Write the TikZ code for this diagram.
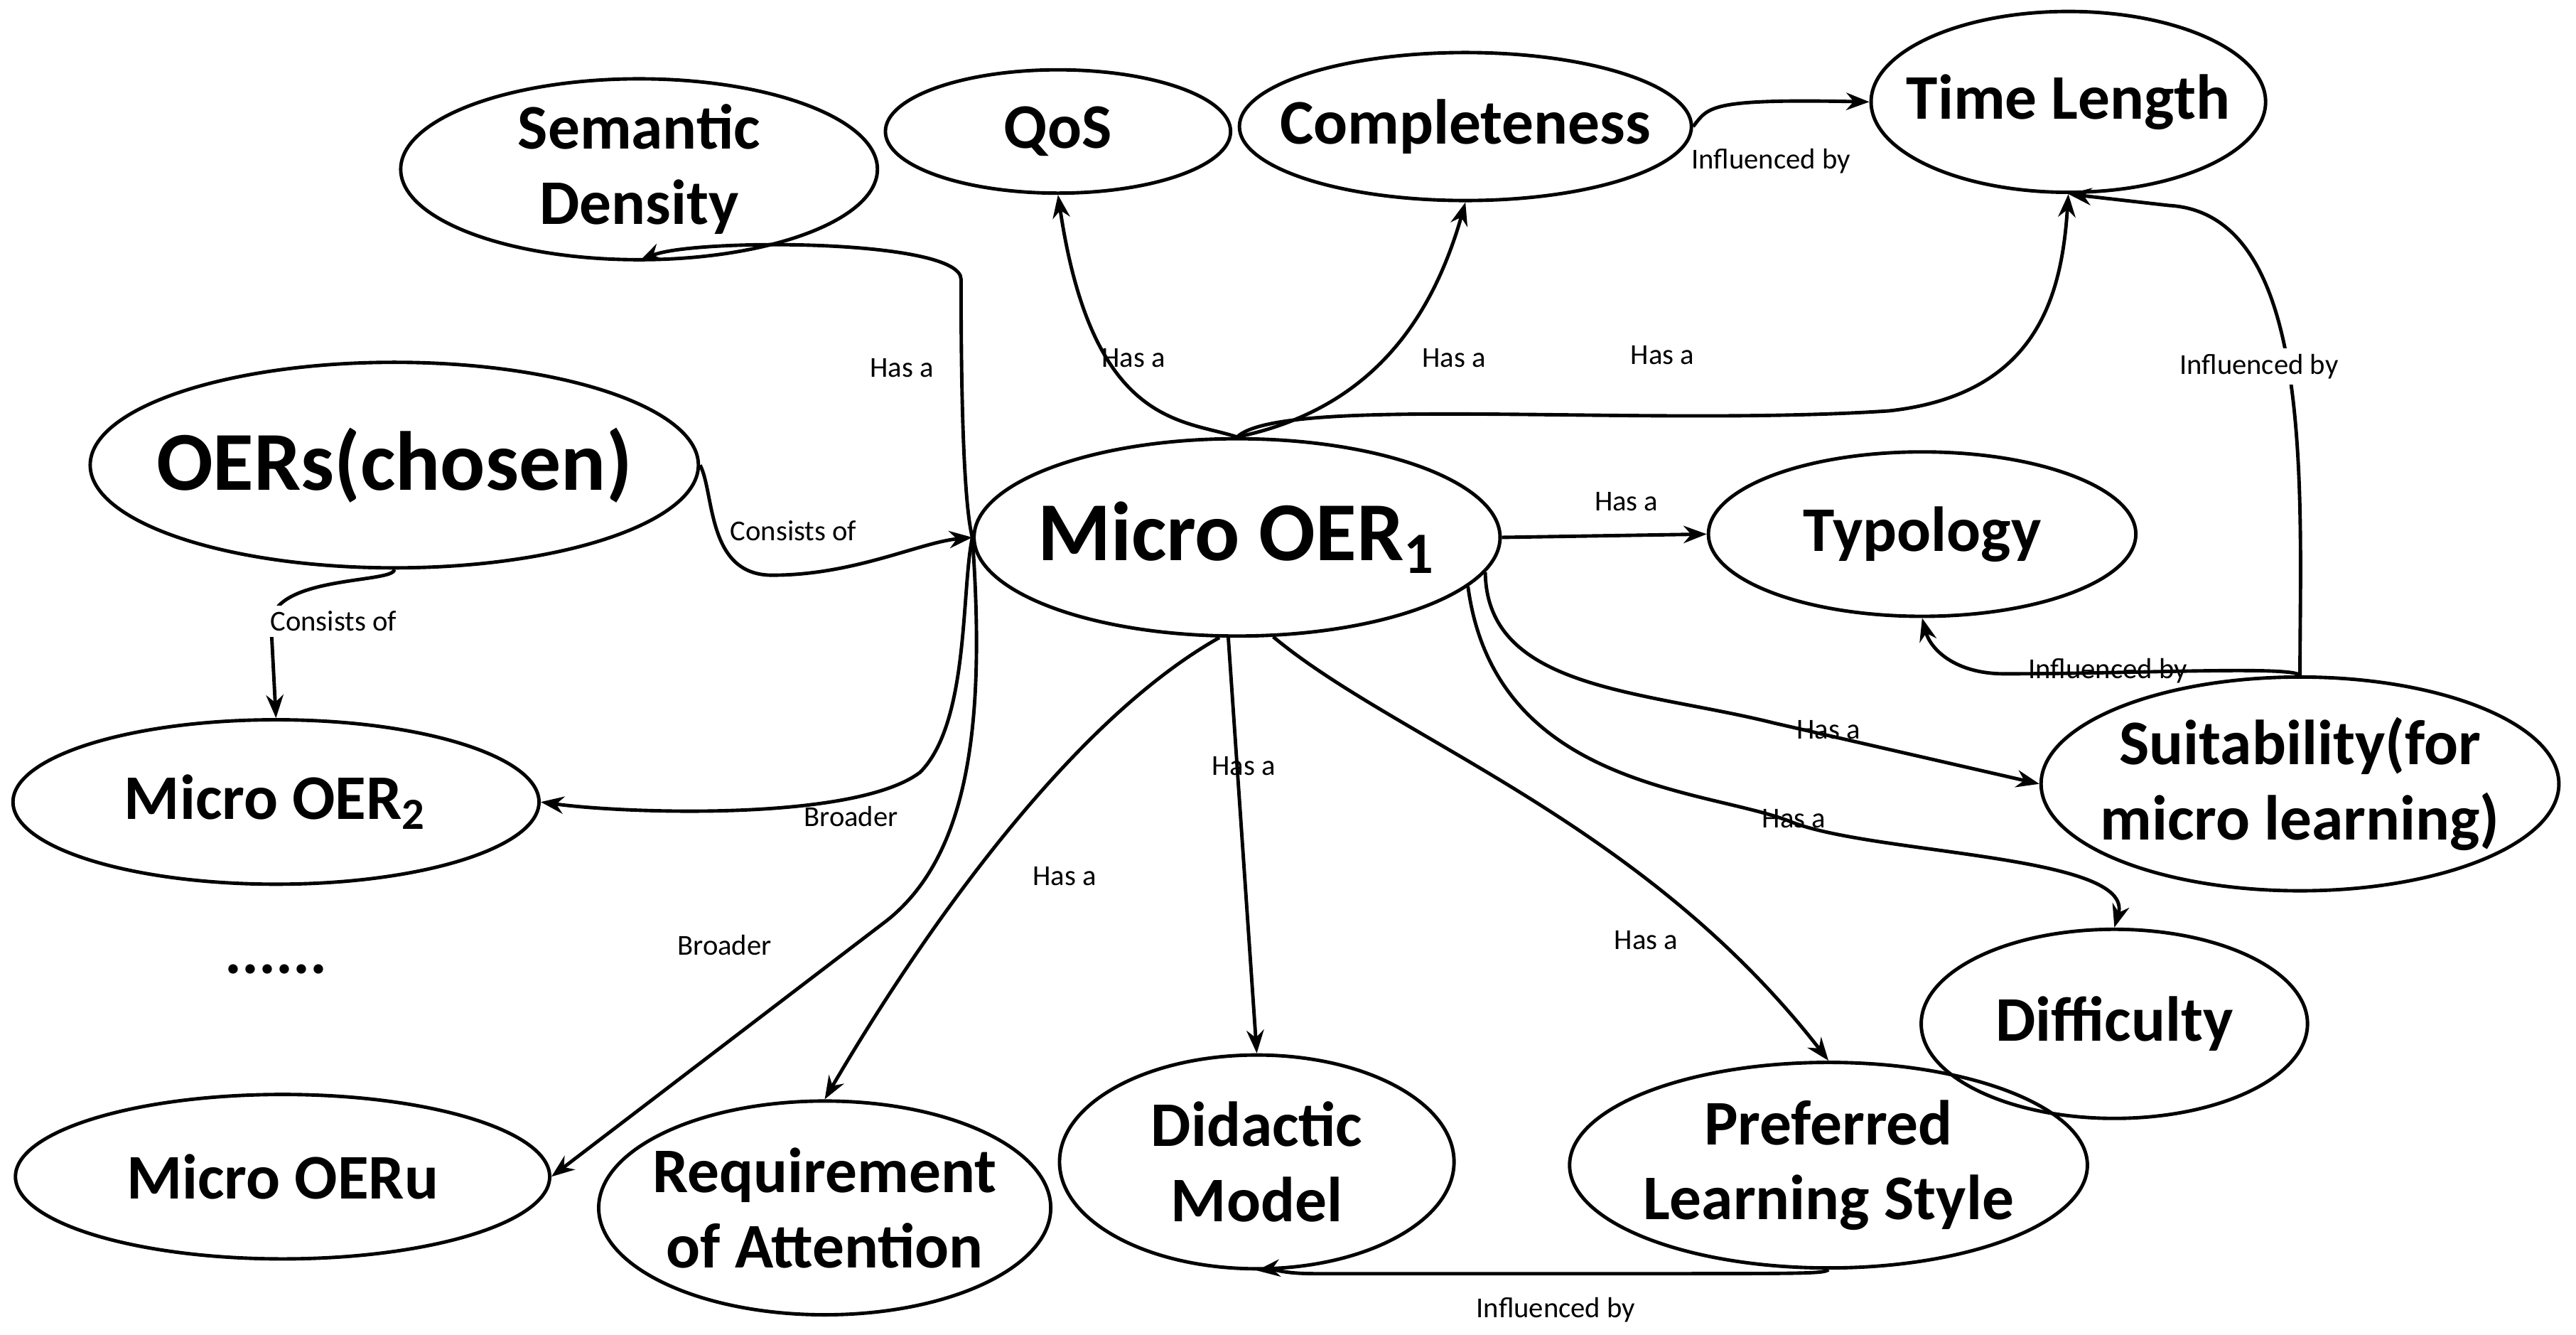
\documentclass[tikz,border=0pt]{standalone}
\usepackage{fontspec}
\setmainfont{Carlito}
\usetikzlibrary{shapes.geometric,arrows.meta}
\begin{document}
\begin{tikzpicture}[x=0.01cm,y=-0.01cm,line width=0.6pt,
concept/.style={draw,ellipse,inner sep=0pt},
txt/.style={align=center,inner sep=0pt,font=\bfseries\fontsize{11}{13}\selectfont},
bigtxt/.style={txt,font=\bfseries\fontsize{14.5}{16}\selectfont},
rel/.style={-{Stealth[length=4pt,width=3pt]}},
lbl/.style={font=\fontsize{5}{6}\selectfont,inner sep=1pt}]
\useasboundingbox (0,0) rectangle (1568,812);

\node[concept,minimum width=2.9cm,minimum height=1.1cm] (sem) at (389,103) {};
\node[txt] (semt) at (sem) {Semantic\\Density};
\node[concept,minimum width=2.1cm,minimum height=0.75cm] (qos) at (644,80) {};
\node[txt] (qost) at (qos) {QoS};
\node[concept,minimum width=2.75cm,minimum height=0.9cm] (comp) at (892,77) {};
\node[txt] (compt) at (comp) {Completeness};
\node[concept,minimum width=2.4cm,minimum height=1.1cm] (time) at (1259,62) {};
\node[txt] (timet) at (time) {Time Length};
\node[concept,minimum width=3.7cm,minimum height=1.25cm] (oers) at (240,283) {};
\node[bigtxt] (oerst) at (oers) {OERs(chosen)};
\node[concept,minimum width=3.2cm,minimum height=1.2cm] (micro) at (753,327) {};
\node[bigtxt] (microt) at (micro) {Micro OER$_{\mathbf{1}}$};
\node[concept,minimum width=2.6cm,minimum height=1.0cm] (typ) at (1170,325) {};
\node[txt] (typt) at (typ) {Typology};
\node[concept,minimum width=3.15cm,minimum height=1.3cm] (suit) at (1400,477) {};
\node[txt] (suitt) at (suit) {Suitability(for\\micro learning)};
\node[concept,minimum width=3.2cm,minimum height=1.0cm] (micro2) at (168,488) {};
\node[txt] (micro2t) at (micro2) {Micro OER$_{\mathbf{2}}$};
\node[txt] (dots) at (168,590) {......};
\node[concept,minimum width=2.35cm,minimum height=1.15cm] (diff) at (1287,623) {};
\node[txt] (difft) at (diff) {Difficulty};
\node[concept,minimum width=3.25cm,minimum height=1.0cm] (microu) at (172,716) {};
\node[txt] (microut) at (microu) {Micro OERu};
\node[concept,minimum width=2.75cm,minimum height=1.3cm] (req) at (502,735) {};
\node[txt] (reqt) at (req) {Requirement\\of Attention};
\node[concept,minimum width=2.4cm,minimum height=1.3cm] (did) at (765,707) {};
\node[txt] (didt) at (did) {Didactic\\Model};
\node[concept,minimum width=3.15cm,minimum height=1.25cm] (pref) at (1113,709) {};
\node[txt] (preft) at (pref) {Preferred\\Learning Style};

% relations from Micro OER1
\draw[rel] (micro.north) .. controls (720,255) and (665,260) .. (qos.south);
\node[lbl] (l1) at (690,218) {Has a};
\draw[rel] (micro.north) .. controls (830,250) and (870,200) .. (comp.south);
\node[lbl] (l2) at (885,218) {Has a};
\draw[rel] (micro.north) .. controls (780,240) and (1000,260) .. (1150,250) .. controls (1240,240) and (1255,180) .. (time.south);
\node[lbl] (l3) at (1012,216) {Has a};
\draw[rel] (micro.west) .. controls (585,300) and (585,200) .. (585,170) .. controls (585,145) and (420,145) .. (sem.south);
\node[lbl] (l4) at (549,224) {Has a};
\draw[rel] (oers.east) .. controls (435,300) and (430,350) .. (470,350) .. controls (520,350) and (560,330) .. (micro.west);
\node[lbl] (l5) at (483,323) {Consists of};
\draw[rel] (oers.south) .. controls (240,355) and (165,350) .. (165,380) -- (micro2.north);
\node[lbl,fill=white] (l6) at (203,378) {Consists of};
\draw[rel] (micro.west) .. controls (585,360) and (590,440) .. (560,470) .. controls (520,500) and (380,495) .. (micro2.east);
\node[lbl] (l7) at (518,497) {Broader};
\draw[rel] (micro.west) .. controls (600,440) and (590,520) .. (540,560) -- (microu.east);
\node[lbl] (l8) at (441,575) {Broader};
\draw[rel] (micro.east) -- (typ.west);
\node[lbl] (l9) at (990,305) {Has a};
\draw[rel] (micro.-8) .. controls (905,420) and (1000,420) .. (1080,440) -- (suit.west);
\node[lbl] (l10) at (1113,444) {Has a};
\draw[rel] (micro.-12) .. controls (910,480) and (1040,480) .. (1090,500) .. controls (1140,520) and (1300,520) .. (diff.north);
\node[lbl] (l11) at (1092,498) {Has a};
\draw[rel] (micro.-100) .. controls (650,440) and (560,570) .. (req.north);
\node[lbl] (l12) at (648,533) {Has a};
\draw[rel] (micro.-95) -- (did.north);
\node[lbl] (l13) at (757,466) {Has a};
\draw[rel] (micro.-70) .. controls (850,450) and (1000,500) .. (pref.north);
\node[lbl] (l14) at (1002,572) {Has a};

% influences
\draw[rel] (suit.north) .. controls (1400,300) and (1410,130) .. (1320,125) -- (time.south);
\node[lbl,fill=white] (l15) at (1375,223) {Influenced by};
\draw[rel] (suit.north) .. controls (1395,405) and (1300,410) .. (1220,410) .. controls (1190,410) and (1175,395) .. (typ.south);
\node[lbl] (l16) at (1283,408) {Influenced by};
\draw[rel] (comp.east) .. controls (1040,65) and (1040,60) .. (time.west);
\node[lbl] (l17) at (1078,98) {Influenced by};
\draw[rel] (pref.south) .. controls (1110,775) and (1100,775) .. (1000,775) -- (800,775) .. controls (780,775) and (775,772) .. (did.south);
\node[lbl] (l18) at (947,797) {Influenced by};
\end{tikzpicture}
\end{document}
